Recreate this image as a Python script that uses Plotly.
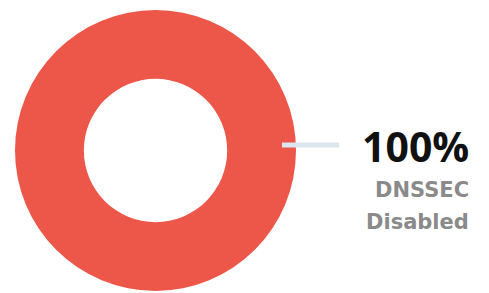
import plotly.graph_objects as go

labels = ["DNSSEC Disabled"]
values = [100]
colors = ["#EC5749"]
label_lines = ["DNSSEC", "Disabled"]

W, H = 489, 293
total = sum(values)
pct = f"{round(values[0] / total * 100)}%"

fig = go.Figure(go.Pie(
    labels=labels, values=values, hole=0.51, sort=False,
    marker=dict(colors=colors, line=dict(width=0)),
    textinfo="none", hoverinfo="label+percent", showlegend=False,
    domain=dict(x=[15 / W, 296 / W], y=[1 - 291 / H, 1 - 10 / H]),
))

fig.add_shape(type="line", xref="paper", yref="paper",
              x0=282 / W, x1=339 / W, y0=1 - 145 / H, y1=1 - 145 / H,
              line=dict(color="#DCE6F0", width=5))

fig.add_annotation(x=471 / W, y=1 - 146 / H, xref="paper", yref="paper",
                   xanchor="right", yanchor="middle", showarrow=False,
                   text=f"<b>{pct}</b>",
                   font=dict(family="Open Sans", size=41, color="#111111"))
for i, line in enumerate(label_lines):
    fig.add_annotation(x=471 / W, y=1 - (190 + 32 * i) / H, xref="paper", yref="paper",
                       xanchor="right", yanchor="middle", showarrow=False,
                       text=f"<b>{line}</b>",
                       font=dict(family="DejaVu Sans", size=21, color="#8A8A8A"))

fig.update_layout(width=W, height=H, margin=dict(l=0, r=0, t=0, b=0),
                  paper_bgcolor="white", plot_bgcolor="white")
fig.write_html("out.html", config={"displayModeBar": False},
               post_script="document.body.style.margin='0';document.body.style.overflow='hidden';")
